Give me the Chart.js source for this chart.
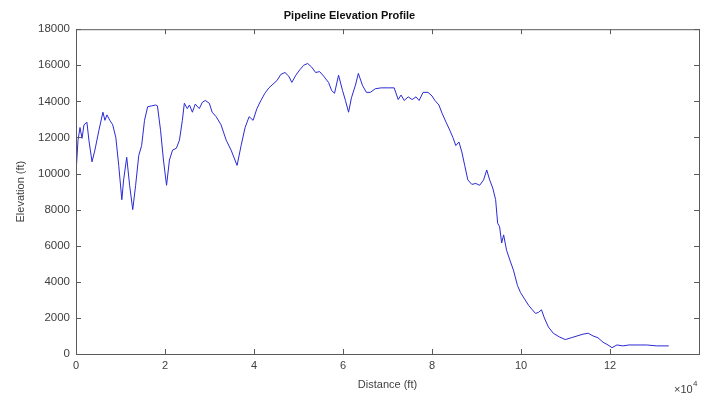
<!DOCTYPE html>
<html>
<head>
<meta charset="utf-8">
<script src="https://cdn.jsdelivr.net/npm/chart.js@4.4.1/dist/chart.umd.min.js"></script>
<style>
  html, body { margin: 0; padding: 0; background: #ffffff; overflow: hidden; }
  #box { position: relative; width: 701px; height: 396px; }
</style>
</head>
<body>
<div id="box"><canvas id="perfil"></canvas></div>
<script>
// distancia ao longo do duto (ft) e cota do terreno (ft)
const distancia = [
  0, 450, 900, 1350, 1800, 2450, 2900, 3600, 4250, 5150, 6050, 6500, 6950, 7600, 8250, 8950,
  9600, 10300, 10700, 11400, 12050, 12750, 13400, 14100, 14750, 15400, 16100, 17000, 17900, 18300,
  19000, 19650, 20350, 21000, 21700, 22550, 23250, 23900, 24350, 25000, 25500, 26150, 26800, 27700,
  28400, 29050, 29950, 30600, 31500, 32600, 33750, 34850, 36200, 37100, 38000, 38900, 39800, 40650,
  41550, 42450, 43350, 44250, 45150, 46050, 46950, 47800, 48500, 49400, 50300, 51150, 52050, 52950,
  53850, 54750, 55650, 56750, 57450, 58100, 59000, 59900, 60550, 61250, 61900, 62800, 63450, 64350,
  65250, 66150, 67250, 68600, 70150, 71500, 72400, 73050, 73750, 74650, 75550, 76400, 77100, 78000,
  79100, 80000, 80650, 81550, 82250, 83150, 84000, 84700, 85350, 86050, 86700, 87350, 88050, 88950,
  89850, 90700, 91600, 92300, 92950, 93650, 94300, 94750, 95200, 95650, 96100, 96750, 97650, 98300,
  99200, 99900, 100800, 101700, 102550, 103250, 103900, 104600, 105250, 106150, 107250, 108600, 109950,
  111300, 112600, 113950, 115100, 116200, 117300, 118450, 119550, 120450, 121550, 122900, 124250,
  126050, 128250, 130500, 133200
];
const elevacao = [
  10000, 11850, 12550, 11950, 12700, 12850, 11850, 10650, 11300, 12400, 13400, 12950, 13250, 12950, 12700, 12000,
  10450, 8550, 9650, 10900, 9350, 8000, 9350, 11000, 11550, 12950, 13700, 13750, 13800, 13750,
  12400, 10750, 9350, 10750, 11300, 11400, 11850, 12950, 13900, 13600, 13800, 13400, 13850, 13600,
  13950, 14050, 13900, 13400, 13150, 12700, 11850, 11300, 10450, 11550, 12550, 13150, 12950, 13600,
  14050, 14450, 14750, 14950, 15150, 15500, 15600, 15400, 15050, 15450, 15750, 16000, 16100, 15900,
  15600, 15650, 15400, 15050, 14600, 14450, 15450, 14600, 14050, 13400, 14200, 14900, 15550, 14900,
  14500, 14500, 14700, 14750, 14750, 14750, 14100, 14350, 14050, 14250, 14100, 14250, 14050, 14500,
  14500, 14300, 14050, 13800, 13350, 12850, 12400, 12000, 11550, 11750, 11200, 10450, 9650, 9400,
  9450, 9350, 9650, 10200, 9650, 9200, 8550, 7250, 7050, 6150, 6600, 5750, 5100, 4650,
  3800, 3400, 3050, 2700, 2450, 2250, 2300, 2450, 2000, 1500, 1150, 950, 800,
  900, 1000, 1100, 1150, 1000, 900, 650, 500, 350, 500, 450, 500,
  500, 500, 450, 450
];

// rótulos dos eixos
const titulo = 'Pipeline Elevation Profile';
const rotuloX = 'Distance (ft)';
const rotuloY = 'Elevation (ft)';
const limiteX = [0, 140000];
const limiteY = [0, 18000];

const corEixo = '#5a5a5a';
const corTexto = '#404040';
const corLinha = '#2a2ad6';
const fonte = '"Liberation Sans", Arial, sans-serif';

// caixa do gráfico + marcas de escala para dentro, estilo matlab
const caixaPlugin = {
  id: 'caixa',
  afterDatasetsDraw(chart) {
    const { ctx, chartArea: a, scales } = chart;
    ctx.save();
    ctx.strokeStyle = corEixo;
    ctx.lineWidth = 1;
    ctx.strokeRect(a.left + 0.5, a.top + 0.5, a.right - a.left, a.bottom - a.top);
    ctx.beginPath();
    scales.x.ticks.forEach(t => {
      const px = Math.round(scales.x.getPixelForValue(t.value)) + 0.5;
      ctx.moveTo(px, a.bottom); ctx.lineTo(px, a.bottom - 5);
      ctx.moveTo(px, a.top); ctx.lineTo(px, a.top + 5);
    });
    scales.y.ticks.forEach(t => {
      const py = Math.round(scales.y.getPixelForValue(t.value)) + 0.5;
      ctx.moveTo(a.left, py); ctx.lineTo(a.left + 5, py);
      ctx.moveTo(a.right, py); ctx.lineTo(a.right - 5, py);
    });
    ctx.stroke();

    // fator de escala do eixo x
    ctx.fillStyle = corTexto;
    ctx.textBaseline = 'alphabetic';
    ctx.textAlign = 'left';
    ctx.font = '11px ' + fonte;
    ctx.fillText('\u00d710', 674, 393);
    ctx.font = '8px ' + fonte;
    ctx.fillText('4', 693, 386);
    ctx.restore();
  }
};

const config = {
  type: 'line',
  data: {
    datasets: [{
      label: 'Elevação',
      data: distancia.map((d, i) => ({ x: d, y: elevacao[i] })),
      borderColor: corLinha,
      borderWidth: 1,
      pointRadius: 0,
      tension: 0,
      fill: false
    }]
  },
  options: {
    responsive: true,
    maintainAspectRatio: false,
    animation: false,
    layout: { padding: { top: 0, right: 2, bottom: 0, left: 0 } },
    plugins: {
      legend: { display: false },
      tooltip: { enabled: false },
      title: {
        display: true,
        text: titulo,
        color: '#111',
        font: { family: fonte, size: 11, weight: 'bold' },
        padding: { top: 9, bottom: 7 }
      }
    },
    scales: {
      x: {
        type: 'linear',
        min: limiteX[0],
        max: limiteX[1],
        grid: { display: false, drawTicks: false },
        border: { display: false },
        ticks: {
          stepSize: 20000,
          padding: 5,
          color: corTexto,
          font: { family: fonte, size: 11 },
          maxRotation: 0,
          callback: v => (v >= limiteX[1] ? '' : String(v / 10000))
        },
        title: {
          display: true,
          text: rotuloX,
          color: corTexto,
          font: { family: fonte, size: 11 },
          padding: { top: 2, bottom: 4 }
        },
        afterFit(s) { s.height = 42; s.paddingRight = 0; s.paddingLeft = 0; }
      },
      y: {
        min: limiteY[0],
        max: limiteY[1],
        grid: { display: false, drawTicks: false },
        border: { display: false },
        ticks: {
          stepSize: 2000,
          padding: 6,
          color: corTexto,
          font: { family: fonte, size: 11.5 },
          callback: v => String(v)
        },
        title: {
          display: true,
          text: rotuloY,
          color: corTexto,
          font: { family: fonte, size: 11 },
          padding: { top: 14, bottom: 0 }
        },
        afterFit(s) { s.width = 76; s.paddingTop = 0; s.paddingBottom = 0; }
      }
    }
  },
  plugins: [caixaPlugin]
};

new Chart(document.getElementById('perfil'), config);
</script>
</body>
</html>
